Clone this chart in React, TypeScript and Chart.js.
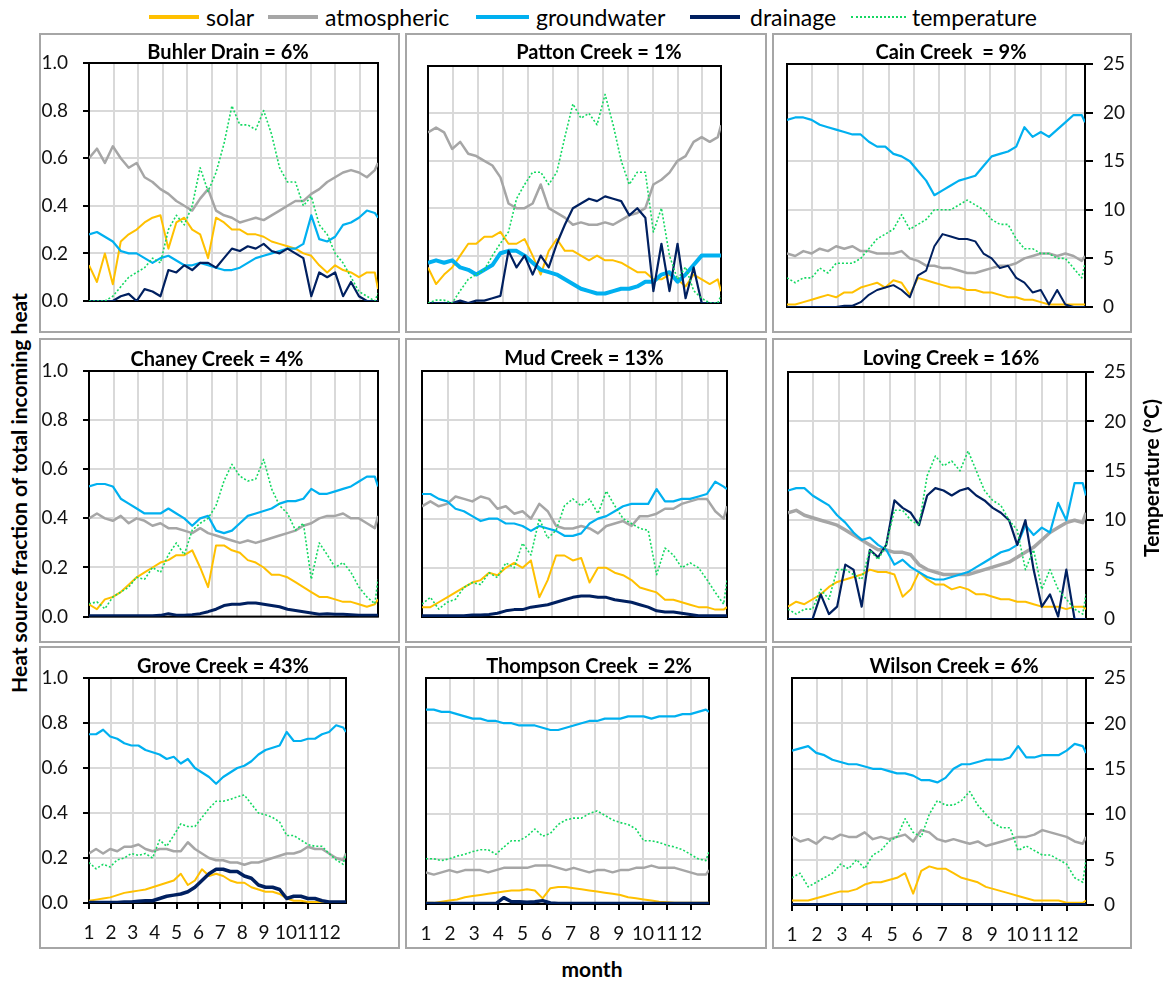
import React, { useEffect, useRef } from 'react';
import { Chart, registerables } from 'chart.js';

Chart.register(...registerables);

const FONT = "Lato, 'Noto Sans', sans-serif";
Chart.defaults.font.family = FONT;
Chart.defaults.color = '#111';

// Day of year for each sample
const DAYS = [1, 11, 21, 31, 41, 51, 61, 71, 81, 91, 101, 111, 121, 131, 141, 151, 161, 171, 181, 191, 201, 211, 221, 231, 241, 251, 261, 271, 281, 291, 301, 311, 321, 331, 341, 351, 361, 365];
const MONTH_TICKS = [1, 32, 63, 94, 125, 156, 187, 218, 249, 280, 311, 342];
const MONTH_LABELS = ['1', '2', '3', '4', '5', '6', '7', '8', '9', '10', '11', '12'];

// ---- Buhler Drain ----
const buhlerSolar = [0.15, 0.08, 0.2, 0.07, 0.25, 0.28, 0.3, 0.33, 0.35, 0.36, 0.22, 0.33, 0.35, 0.3, 0.28, 0.18, 0.35, 0.33, 0.3, 0.3, 0.28, 0.28, 0.27, 0.25, 0.24, 0.23, 0.22, 0.2, 0.19, 0.15, 0.12, 0.15, 0.13, 0.12, 0.1, 0.12, 0.12, 0.05];
const buhlerAtmospheric = [0.6, 0.64, 0.58, 0.65, 0.6, 0.56, 0.58, 0.52, 0.5, 0.47, 0.45, 0.42, 0.4, 0.38, 0.43, 0.47, 0.38, 0.36, 0.35, 0.33, 0.34, 0.35, 0.34, 0.36, 0.38, 0.4, 0.42, 0.42, 0.45, 0.47, 0.5, 0.52, 0.54, 0.55, 0.54, 0.52, 0.55, 0.58];
const buhlerGroundwater = [0.28, 0.29, 0.27, 0.25, 0.21, 0.2, 0.2, 0.18, 0.16, 0.18, 0.19, 0.17, 0.15, 0.15, 0.16, 0.15, 0.14, 0.13, 0.13, 0.14, 0.16, 0.18, 0.19, 0.2, 0.21, 0.22, 0.22, 0.24, 0.36, 0.26, 0.25, 0.27, 0.32, 0.33, 0.35, 0.38, 0.37, 0.35];
const buhlerDrainage = [0, 0, 0, 0, 0.02, 0.03, 0, 0.05, 0.04, 0.02, 0.13, 0.12, 0.15, 0.13, 0.16, 0.16, 0.14, 0.18, 0.22, 0.21, 0.23, 0.22, 0.24, 0.21, 0.2, 0.22, 0.2, 0.18, 0.02, 0.12, 0.1, 0.12, 0.02, 0.08, 0.02, 0, 0, 0];
const buhlerTemperature = [0, 0, 0, 0.5, 1.5, 2.5, 3, 3.5, 4.5, 4, 7.5, 9, 8, 10, 14, 11.5, 13.5, 16.5, 20.5, 18.5, 18.5, 18, 20, 17.5, 14, 12.5, 12.5, 10, 11, 8, 7, 5, 4, 2.5, 1, 0.5, 0, 0.8];

// ---- Patton Creek ----
const pattonSolar = [0.15, 0.08, 0.12, 0.15, 0.2, 0.25, 0.25, 0.28, 0.28, 0.3, 0.25, 0.25, 0.27, 0.2, 0.12, 0.22, 0.27, 0.22, 0.22, 0.2, 0.18, 0.2, 0.18, 0.18, 0.17, 0.15, 0.13, 0.13, 0.1, 0.1, 0.12, 0.1, 0.07, 0.12, 0.1, 0.08, 0.1, 0.05];
const pattonAtmospheric = [0.72, 0.74, 0.72, 0.65, 0.68, 0.63, 0.62, 0.6, 0.58, 0.53, 0.42, 0.4, 0.4, 0.42, 0.5, 0.4, 0.38, 0.36, 0.33, 0.34, 0.33, 0.33, 0.34, 0.33, 0.35, 0.37, 0.38, 0.4, 0.5, 0.52, 0.55, 0.6, 0.62, 0.68, 0.7, 0.68, 0.7, 0.75];
const pattonGroundwater = [0.17, 0.18, 0.17, 0.18, 0.15, 0.14, 0.12, 0.14, 0.16, 0.21, 0.22, 0.22, 0.2, 0.17, 0.14, 0.13, 0.12, 0.1, 0.08, 0.06, 0.05, 0.04, 0.04, 0.05, 0.06, 0.06, 0.07, 0.09, 0.09, 0.12, 0.13, 0.09, 0.12, 0.16, 0.2, 0.2, 0.2, 0.2];
const pattonDrainage = [0, 0, 0, 0, 0.01, 0, 0.01, 0.01, 0.02, 0.03, 0.22, 0.15, 0.2, 0.12, 0.2, 0.15, 0.25, 0.33, 0.4, 0.42, 0.44, 0.43, 0.45, 0.44, 0.43, 0.37, 0.4, 0.36, 0.05, 0.25, 0.05, 0.25, 0.02, 0.15, 0, 0, 0, 0];
const pattonTemperature = [0, 0.3, 0.3, 0, 1.3, 2.5, 3, 3.5, 5, 6.3, 7.5, 11, 12.5, 13.8, 13.8, 12.5, 13.8, 17.5, 21, 19.5, 20, 18.8, 22, 18.8, 15, 12.5, 13.8, 13.8, 7.5, 10, 5, 2.5, 3.8, 1.3, 0.5, 0, 0, 0.8];

// ---- Cain Creek ----
const cainSolar = [0.01, 0.01, 0.02, 0.03, 0.04, 0.05, 0.04, 0.06, 0.06, 0.08, 0.09, 0.1, 0.08, 0.11, 0.1, 0.05, 0.12, 0.11, 0.1, 0.09, 0.08, 0.08, 0.07, 0.07, 0.06, 0.06, 0.05, 0.04, 0.04, 0.03, 0.03, 0.02, 0.01, 0.01, 0.01, 0.01, 0.01, 0.01];
const cainAtmospheric = [0.22, 0.21, 0.23, 0.22, 0.24, 0.23, 0.25, 0.24, 0.25, 0.23, 0.23, 0.22, 0.22, 0.22, 0.23, 0.2, 0.19, 0.17, 0.17, 0.16, 0.16, 0.15, 0.14, 0.14, 0.15, 0.16, 0.17, 0.17, 0.18, 0.2, 0.21, 0.22, 0.22, 0.21, 0.22, 0.21, 0.19, 0.21];
const cainGroundwater = [0.77, 0.78, 0.78, 0.77, 0.75, 0.74, 0.73, 0.72, 0.71, 0.71, 0.68, 0.66, 0.66, 0.63, 0.62, 0.6, 0.56, 0.52, 0.46, 0.48, 0.5, 0.52, 0.53, 0.54, 0.58, 0.62, 0.63, 0.64, 0.66, 0.74, 0.7, 0.72, 0.7, 0.73, 0.76, 0.79, 0.79, 0.76];
const cainDrainage = [0, 0, 0, 0, 0, 0, 0, 0.005, 0.005, 0.02, 0.05, 0.07, 0.08, 0.09, 0.07, 0.04, 0.13, 0.15, 0.25, 0.3, 0.29, 0.28, 0.28, 0.27, 0.22, 0.2, 0.16, 0.17, 0.12, 0.1, 0.06, 0.07, 0.01, 0.07, 0.01, 0, 0, 0];
const cainTemperature = [3, 2.5, 3, 3, 4, 3.5, 4.5, 4.5, 4.5, 5, 6, 7, 7.5, 8, 9.5, 8, 8.5, 9, 10, 10, 10, 10.5, 11, 10.5, 10, 9, 8.5, 8.5, 7, 6, 6, 5.5, 5.5, 5, 5, 4, 3, 4.5];

// ---- Chaney Creek ----
const chaneySolar = [0.05, 0.03, 0.07, 0.08, 0.1, 0.13, 0.16, 0.18, 0.2, 0.22, 0.23, 0.25, 0.25, 0.27, 0.2, 0.12, 0.29, 0.29, 0.27, 0.26, 0.23, 0.22, 0.2, 0.17, 0.17, 0.16, 0.14, 0.12, 0.1, 0.08, 0.08, 0.07, 0.06, 0.06, 0.05, 0.04, 0.05, 0.07];
const chaneyAtmospheric = [0.4, 0.42, 0.4, 0.39, 0.41, 0.38, 0.4, 0.39, 0.37, 0.38, 0.36, 0.36, 0.35, 0.34, 0.36, 0.34, 0.33, 0.32, 0.31, 0.3, 0.31, 0.3, 0.31, 0.32, 0.33, 0.34, 0.35, 0.37, 0.38, 0.4, 0.41, 0.41, 0.42, 0.4, 0.4, 0.38, 0.36, 0.41];
const chaneyGroundwater = [0.53, 0.54, 0.54, 0.53, 0.48, 0.46, 0.44, 0.42, 0.42, 0.42, 0.44, 0.42, 0.4, 0.37, 0.4, 0.41, 0.35, 0.34, 0.35, 0.38, 0.41, 0.42, 0.43, 0.44, 0.46, 0.47, 0.47, 0.48, 0.52, 0.5, 0.5, 0.51, 0.52, 0.53, 0.55, 0.57, 0.57, 0.53];
const chaneyDrainage = [0.003, 0.003, 0.003, 0.003, 0.003, 0.003, 0.003, 0.003, 0.003, 0.005, 0.012, 0.006, 0.006, 0.008, 0.012, 0.02, 0.03, 0.045, 0.05, 0.05, 0.055, 0.055, 0.05, 0.045, 0.04, 0.03, 0.025, 0.02, 0.015, 0.01, 0.012, 0.01, 0.01, 0.008, 0.006, 0.005, 0.005, 0.005];
const chaneyTemperature = [1.3, 1.5, 0.8, 2, 2.5, 3, 4, 3.8, 5, 4.5, 6.3, 7.5, 6.3, 8.8, 9.5, 10, 11.3, 13.8, 15.5, 14.3, 13.8, 14, 16, 13, 11.3, 10.5, 8.8, 9.5, 3.8, 7.5, 6.3, 5, 5.5, 4.5, 3, 2, 1.3, 3.8];

// ---- Mud Creek ----
const mudSolar = [0.04, 0.04, 0.06, 0.08, 0.1, 0.12, 0.14, 0.15, 0.18, 0.17, 0.2, 0.22, 0.2, 0.23, 0.08, 0.15, 0.25, 0.25, 0.23, 0.24, 0.14, 0.2, 0.2, 0.18, 0.17, 0.15, 0.12, 0.11, 0.1, 0.07, 0.07, 0.06, 0.05, 0.04, 0.04, 0.03, 0.03, 0.04];
const mudAtmospheric = [0.45, 0.47, 0.45, 0.46, 0.49, 0.48, 0.47, 0.49, 0.48, 0.44, 0.45, 0.42, 0.43, 0.4, 0.46, 0.43, 0.37, 0.36, 0.36, 0.37, 0.36, 0.34, 0.37, 0.38, 0.39, 0.37, 0.41, 0.41, 0.42, 0.44, 0.44, 0.46, 0.47, 0.48, 0.48, 0.43, 0.4, 0.45];
const mudGroundwater = [0.5, 0.5, 0.48, 0.47, 0.44, 0.43, 0.41, 0.39, 0.4, 0.4, 0.38, 0.38, 0.37, 0.35, 0.37, 0.36, 0.35, 0.33, 0.33, 0.34, 0.38, 0.4, 0.41, 0.43, 0.45, 0.46, 0.46, 0.46, 0.52, 0.47, 0.47, 0.48, 0.48, 0.49, 0.5, 0.55, 0.53, 0.52];
const mudDrainage = [0.005, 0.005, 0.005, 0.005, 0.005, 0.005, 0.008, 0.008, 0.01, 0.015, 0.025, 0.03, 0.03, 0.04, 0.045, 0.05, 0.06, 0.07, 0.08, 0.085, 0.085, 0.08, 0.08, 0.07, 0.065, 0.06, 0.05, 0.04, 0.025, 0.02, 0.02, 0.015, 0.01, 0.005, 0.005, 0.005, 0.005, 0.005];
const mudTemperature = [1.3, 2, 0.8, 1.5, 1.8, 3, 3.5, 3.3, 4.5, 4, 5.5, 5, 7.5, 6.3, 10, 8, 8.8, 11.3, 12, 11.3, 12, 10.5, 12.8, 11.3, 10, 9.5, 9, 8.8, 4.3, 7, 6.3, 5, 5.5, 5, 3.8, 2.5, 1.3, 3.8];

// ---- Loving Creek ----
const lovingSolar = [0.05, 0.07, 0.06, 0.08, 0.1, 0.13, 0.15, 0.16, 0.17, 0.18, 0.2, 0.19, 0.19, 0.18, 0.09, 0.12, 0.19, 0.16, 0.14, 0.14, 0.12, 0.13, 0.12, 0.1, 0.1, 0.09, 0.08, 0.08, 0.07, 0.07, 0.06, 0.05, 0.05, 0.05, 0.04, 0.05, 0.05, 0.04];
const lovingAtmospheric = [0.43, 0.44, 0.42, 0.41, 0.4, 0.39, 0.38, 0.36, 0.34, 0.32, 0.3, 0.28, 0.28, 0.27, 0.27, 0.26, 0.22, 0.2, 0.19, 0.18, 0.18, 0.18, 0.18, 0.19, 0.2, 0.21, 0.22, 0.23, 0.25, 0.27, 0.29, 0.32, 0.35, 0.37, 0.39, 0.4, 0.39, 0.43];
const lovingGroundwater = [0.52, 0.53, 0.53, 0.5, 0.48, 0.46, 0.42, 0.39, 0.35, 0.32, 0.33, 0.3, 0.28, 0.22, 0.24, 0.21, 0.19, 0.17, 0.16, 0.16, 0.17, 0.18, 0.19, 0.21, 0.23, 0.25, 0.27, 0.28, 0.3, 0.38, 0.34, 0.37, 0.35, 0.47, 0.4, 0.55, 0.55, 0.5];
const lovingDrainage = [0, 0, 0, 0, 0.1, 0.02, 0.05, 0.22, 0.2, 0.05, 0.28, 0.25, 0.3, 0.48, 0.45, 0.43, 0.38, 0.5, 0.53, 0.52, 0.5, 0.52, 0.53, 0.5, 0.48, 0.45, 0.43, 0.4, 0.3, 0.4, 0.2, 0.05, 0.1, 0.01, 0.2, 0, 0, 0];
const lovingTemperature = [1, 0.5, 1, 1, 3, 2, 5, 5, 4.5, 4, 7, 6, 7.5, 11, 11, 10, 9.5, 14.5, 16.5, 15.5, 16, 15, 17, 15, 13, 12, 11.5, 10, 9, 5, 7, 3, 5, 3, 2, 1, 0.5, 2.5];

// ---- Grove Creek ----
const groveSolar = [0.01, 0.015, 0.02, 0.025, 0.035, 0.045, 0.05, 0.055, 0.06, 0.07, 0.08, 0.09, 0.1, 0.13, 0.08, 0.1, 0.15, 0.12, 0.13, 0.12, 0.1, 0.09, 0.09, 0.07, 0.06, 0.05, 0.05, 0.04, 0.02, 0.01, 0.01, 0.005, 0.005, 0.005, 0.005, 0.005, 0.005, 0.005];
const groveAtmospheric = [0.22, 0.24, 0.22, 0.24, 0.23, 0.25, 0.25, 0.26, 0.24, 0.23, 0.24, 0.24, 0.23, 0.23, 0.27, 0.24, 0.22, 0.2, 0.19, 0.19, 0.18, 0.18, 0.17, 0.18, 0.18, 0.19, 0.2, 0.21, 0.22, 0.22, 0.23, 0.25, 0.24, 0.24, 0.22, 0.2, 0.19, 0.22];
const groveGroundwater = [0.75, 0.75, 0.77, 0.74, 0.73, 0.71, 0.7, 0.7, 0.68, 0.67, 0.66, 0.64, 0.65, 0.62, 0.64, 0.6, 0.58, 0.56, 0.53, 0.56, 0.58, 0.6, 0.61, 0.63, 0.66, 0.68, 0.69, 0.7, 0.76, 0.72, 0.72, 0.73, 0.73, 0.75, 0.76, 0.79, 0.78, 0.76];
const groveDrainage = [0.002, 0.002, 0.002, 0.002, 0.002, 0.005, 0.005, 0.008, 0.01, 0.01, 0.02, 0.03, 0.035, 0.04, 0.05, 0.07, 0.1, 0.13, 0.15, 0.15, 0.14, 0.14, 0.12, 0.11, 0.08, 0.07, 0.07, 0.06, 0.02, 0.03, 0.03, 0.02, 0.02, 0.01, 0.005, 0.005, 0.005, 0.005];
const groveTemperature = [4.5, 3.8, 4.3, 4, 4.8, 5, 5.5, 5.3, 5.5, 5, 7, 6.3, 7.5, 8.8, 8.5, 8.5, 9.5, 10.5, 11.3, 11.3, 11.5, 11.8, 12, 11, 10, 9.8, 9.5, 9, 7.5, 7.5, 7, 6.5, 6.3, 6.3, 5.5, 4.8, 4.3, 5.5];

// ---- Thompson Creek ----
const thompsonSolar = [0.005, 0.005, 0.01, 0.015, 0.02, 0.03, 0.035, 0.04, 0.045, 0.05, 0.055, 0.06, 0.06, 0.065, 0.06, 0.025, 0.07, 0.075, 0.075, 0.07, 0.065, 0.06, 0.055, 0.05, 0.045, 0.04, 0.03, 0.025, 0.02, 0.015, 0.01, 0.008, 0.005, 0.005, 0.005, 0.005, 0.005, 0.005];
const thompsonAtmospheric = [0.14, 0.13, 0.14, 0.15, 0.14, 0.15, 0.15, 0.15, 0.14, 0.15, 0.16, 0.16, 0.16, 0.16, 0.17, 0.17, 0.17, 0.16, 0.15, 0.16, 0.15, 0.14, 0.15, 0.15, 0.14, 0.15, 0.15, 0.16, 0.16, 0.17, 0.16, 0.16, 0.16, 0.15, 0.14, 0.13, 0.13, 0.15];
const thompsonGroundwater = [0.86, 0.86, 0.85, 0.85, 0.84, 0.83, 0.82, 0.82, 0.81, 0.81, 0.8, 0.8, 0.79, 0.79, 0.79, 0.78, 0.77, 0.77, 0.78, 0.79, 0.8, 0.81, 0.81, 0.82, 0.82, 0.82, 0.83, 0.83, 0.83, 0.82, 0.83, 0.83, 0.83, 0.84, 0.84, 0.85, 0.86, 0.85];
const thompsonDrainage = [0.002, 0.002, 0.002, 0.002, 0.002, 0.002, 0.002, 0.002, 0.002, 0.002, 0.028, 0.01, 0.01, 0.008, 0.01, 0.015, 0.005, 0.002, 0.002, 0.002, 0.002, 0.002, 0.002, 0.002, 0.002, 0.002, 0.002, 0.002, 0.002, 0.002, 0.002, 0.002, 0.002, 0.002, 0.002, 0.002, 0.002, 0.002];
const thompsonTemperature = [5, 5, 4.8, 5, 5.3, 5.5, 5.8, 6, 6, 5.5, 6.3, 7, 7, 7.5, 8.3, 7.5, 7.8, 8.8, 9.3, 9.5, 9.5, 10, 10.3, 9.8, 9.3, 9, 8.8, 8.3, 7, 7, 6.8, 6.5, 6.3, 6, 5.5, 5, 4.8, 5.8];

// ---- Wilson Creek ----
const wilsonSolar = [0.02, 0.02, 0.02, 0.03, 0.04, 0.05, 0.06, 0.06, 0.07, 0.09, 0.1, 0.1, 0.11, 0.12, 0.14, 0.05, 0.15, 0.17, 0.16, 0.16, 0.14, 0.12, 0.11, 0.1, 0.08, 0.07, 0.06, 0.05, 0.04, 0.03, 0.02, 0.02, 0.02, 0.02, 0.01, 0.01, 0.01, 0.02];
const wilsonAtmospheric = [0.3, 0.28, 0.29, 0.27, 0.3, 0.29, 0.31, 0.3, 0.3, 0.32, 0.29, 0.3, 0.29, 0.3, 0.31, 0.28, 0.33, 0.32, 0.29, 0.28, 0.29, 0.28, 0.27, 0.28, 0.26, 0.27, 0.28, 0.29, 0.3, 0.3, 0.31, 0.33, 0.32, 0.31, 0.3, 0.28, 0.27, 0.3];
const wilsonGroundwater = [0.68, 0.69, 0.7, 0.67, 0.66, 0.64, 0.63, 0.62, 0.62, 0.61, 0.6, 0.6, 0.59, 0.58, 0.58, 0.57, 0.55, 0.55, 0.54, 0.56, 0.6, 0.62, 0.62, 0.63, 0.64, 0.64, 0.64, 0.65, 0.7, 0.65, 0.65, 0.66, 0.66, 0.66, 0.68, 0.71, 0.7, 0.67];
const wilsonDrainage = [0, 0, 0, 0, 0, 0, 0, 0, 0, 0, 0, 0, 0, 0, 0, 0, 0, 0, 0, 0, 0, 0, 0, 0, 0, 0, 0, 0, 0, 0, 0, 0, 0, 0, 0, 0, 0, 0];
const wilsonTemperature = [3, 3.5, 2, 2.5, 3, 3.5, 4.5, 4, 5, 4, 5.5, 6, 7, 7.5, 9.5, 8, 7.5, 10, 11.5, 11, 11, 11.5, 12.5, 11, 10, 9, 8.5, 8.5, 6, 6.5, 6, 5.5, 5.5, 5, 4.5, 3, 2.5, 5];

const C_SOLAR = '#FFC000';
const C_ATM = '#A6A6A6';
const C_GW = '#00B0F0';
const C_DRAIN = '#002060';
const C_TEMP = '#14D862';
const C_GRID = '#D9D9D9';

type PanelDef = {
  title: string;
  solar: number[]; atmospheric: number[]; groundwater: number[]; drainage: number[]; temperature: number[];
  box: number[]; plot: number[]; titleAt: number[]; col: number; row: number;
  gwWidth: number; drWidth: number; atmWidth: number;
};

const PANELS: PanelDef[] = [
  { title: 'Buhler Drain = 6%', solar: buhlerSolar, atmospheric: buhlerAtmospheric, groundwater: buhlerGroundwater, drainage: buhlerDrainage, temperature: buhlerTemperature,
    box: [39, 33, 400, 333], plot: [89, 63, 389, 301], titleAt: [228, 51], col: 0, row: 0, gwWidth: 2.2, drWidth: 2.2, atmWidth: 2.5 },
  { title: 'Patton Creek = 1%', solar: pattonSolar, atmospheric: pattonAtmospheric, groundwater: pattonGroundwater, drainage: pattonDrainage, temperature: pattonTemperature,
    box: [405, 33, 767, 333], plot: [428, 66, 744, 303], titleAt: [599, 51], col: 1, row: 0, gwWidth: 4, drWidth: 2.2, atmWidth: 2.5 },
  { title: 'Cain Creek  = 9%', solar: cainSolar, atmospheric: cainAtmospheric, groundwater: cainGroundwater, drainage: cainDrainage, temperature: cainTemperature,
    box: [772, 33, 1132, 333], plot: [787, 64, 1085, 307], titleAt: [951, 51], col: 2, row: 0, gwWidth: 2.2, drWidth: 2, atmWidth: 2.5 },
  { title: 'Chaney Creek = 4%', solar: chaneySolar, atmospheric: chaneyAtmospheric, groundwater: chaneyGroundwater, drainage: chaneyDrainage, temperature: chaneyTemperature,
    box: [39, 338, 400, 643], plot: [89, 371, 389, 618], titleAt: [217, 358], col: 0, row: 1, gwWidth: 2.2, drWidth: 3, atmWidth: 2.5 },
  { title: 'Mud Creek = 13%', solar: mudSolar, atmospheric: mudAtmospheric, groundwater: mudGroundwater, drainage: mudDrainage, temperature: mudTemperature,
    box: [405, 338, 767, 643], plot: [422, 371, 747, 617], titleAt: [584, 357], col: 1, row: 1, gwWidth: 2.2, drWidth: 3, atmWidth: 2.5 },
  { title: 'Loving Creek = 16%', solar: lovingSolar, atmospheric: lovingAtmospheric, groundwater: lovingGroundwater, drainage: lovingDrainage, temperature: lovingTemperature,
    box: [772, 338, 1132, 643], plot: [788, 372, 1086, 619], titleAt: [951, 357], col: 2, row: 1, gwWidth: 2.2, drWidth: 2.2, atmWidth: 3.5 },
  { title: 'Grove Creek = 43%', solar: groveSolar, atmospheric: groveAtmospheric, groundwater: groveGroundwater, drainage: groveDrainage, temperature: groveTemperature,
    box: [39, 646, 400, 949], plot: [89, 678, 373, 903], titleAt: [223, 665], col: 0, row: 2, gwWidth: 2.2, drWidth: 3.5, atmWidth: 2.5 },
  { title: 'Thompson Creek  = 2%', solar: thompsonSolar, atmospheric: thompsonAtmospheric, groundwater: thompsonGroundwater, drainage: thompsonDrainage, temperature: thompsonTemperature,
    box: [405, 646, 767, 949], plot: [426, 678, 738, 904], titleAt: [589, 665], col: 1, row: 2, gwWidth: 2.2, drWidth: 3.5, atmWidth: 2.5 },
  { title: 'Wilson Creek = 6%', solar: wilsonSolar, atmospheric: wilsonAtmospheric, groundwater: wilsonGroundwater, drainage: wilsonDrainage, temperature: wilsonTemperature,
    box: [772, 646, 1132, 949], plot: [792, 678, 1086, 905], titleAt: [954, 665], col: 2, row: 2, gwWidth: 2.2, drWidth: 4, atmWidth: 2.5 },
];

const LEGEND = [
  { label: 'solar', color: C_SOLAR, dotted: false, x0: 149, x1: 199, tx: 206 },
  { label: 'atmospheric', color: C_ATM, dotted: false, x0: 268, x1: 318, tx: 325 },
  { label: 'groundwater', color: C_GW, dotted: false, x0: 476, x1: 529, tx: 536 },
  { label: 'drainage', color: C_DRAIN, dotted: false, x0: 690, x1: 740, tx: 750 },
  { label: 'temperature', color: C_TEMP, dotted: true, x0: 851, x1: 906, tx: 912 },
];

const framePlugin = {
  id: 'frame',
  beforeDatasetsDraw(chart: any) {
    const { ctx, chartArea: a } = chart;
    ctx.save();
    ctx.strokeStyle = '#000';
    ctx.lineWidth = 2;
    ctx.strokeRect(a.left, a.top, a.right - a.left, a.bottom - a.top);
    ctx.restore();
  },
};

function Panel({ p }: { p: PanelDef }) {
  const ref = useRef<HTMLCanvasElement>(null);
  const [bx0, by0, bx1, by1] = p.box;
  const [px0, py0, px1, py1] = p.plot;
  const w = bx1 - bx0;
  const h = by1 - by0;

  useEffect(() => {
    const isLeft = p.col === 0;
    const isRight = p.col === 2;
    const isBottom = p.row === 2;
    const mk = (arr: number[]) => DAYS.map((d, i) => ({ x: d, y: arr[i] }));
    const chart = new Chart(ref.current as HTMLCanvasElement, {
      type: 'line',
      data: {
        datasets: [
          { label: 'temperature', data: mk(p.temperature), yAxisID: 'y2', borderColor: C_TEMP, borderWidth: 1.6, borderDash: [2, 2], order: 1 },
          { label: 'drainage', data: mk(p.drainage), yAxisID: 'y', borderColor: C_DRAIN, borderWidth: p.drWidth, order: 2 },
          { label: 'groundwater', data: mk(p.groundwater), yAxisID: 'y', borderColor: C_GW, borderWidth: p.gwWidth, order: 3 },
          { label: 'atmospheric', data: mk(p.atmospheric), yAxisID: 'y', borderColor: C_ATM, borderWidth: p.atmWidth, order: 4 },
          { label: 'solar', data: mk(p.solar), yAxisID: 'y', borderColor: C_SOLAR, borderWidth: 2, order: 5 },
        ] as any,
      },
      options: {
        responsive: false,
        animation: false,
        events: [],
        elements: { point: { radius: 0 }, line: { tension: 0, borderJoinStyle: 'round' } },
        layout: { padding: { top: py0 - by0, left: 0, bottom: 0, right: isRight ? 0 : bx1 - px1 } },
        plugins: { legend: { display: false }, tooltip: { enabled: false }, title: { display: false } },
        scales: {
          x: {
            type: 'linear', min: 1, max: 365,
            afterBuildTicks: (s: any) => { s.ticks = MONTH_TICKS.map((v) => ({ value: v })); },
            afterFit: (s: any) => { s.height = by1 - py1; },
            ticks: {
              display: isBottom, autoSkip: false, maxRotation: 0, padding: 12,
              font: { size: 19, family: FONT }, color: '#111',
              callback: (_v: any, i: number) => MONTH_LABELS[i],
            },
            grid: { color: C_GRID, lineWidth: 2, drawTicks: isBottom, tickLength: 6, tickColor: '#000' },
            border: { display: false },
          },
          y: {
            min: 0, max: 1,
            afterFit: (s: any) => { s.width = px0 - bx0; },
            ticks: {
              display: isLeft, stepSize: 0.2, padding: 15,
              font: { size: 19, family: FONT }, color: '#111',
              callback: (v: any) => Number(v).toFixed(1),
            },
            grid: { color: C_GRID, lineWidth: 2, drawTicks: isLeft, tickLength: 6, tickColor: '#000' },
            border: { display: false },
          },
          y2: {
            position: 'right', display: isRight, min: 0, max: 25,
            afterFit: (s: any) => { s.width = bx1 - px1; },
            ticks: { stepSize: 5, padding: 10, font: { size: 19, family: FONT }, color: '#111' },
            grid: { drawOnChartArea: false, drawTicks: true, tickLength: 8, tickColor: '#000', lineWidth: 2 },
            border: { display: false },
          },
        },
      } as any,
      plugins: [framePlugin],
    });
    return () => chart.destroy();
  }, []);

  return (
    <>
      <canvas ref={ref} width={w} height={h} style={{ position: 'absolute', left: bx0, top: by0, width: w, height: h }} />
      <div style={{ position: 'absolute', left: bx0, top: by0, width: w, height: h, boxSizing: 'border-box', border: '2px solid #A6A6A6', pointerEvents: 'none' }} />
      <div style={{ position: 'absolute', left: p.titleAt[0], top: p.titleAt[1], transform: 'translate(-50%, -50%)', whiteSpace: 'pre', fontFamily: FONT, fontWeight: 700, fontSize: 20, color: '#000' }}>
        {p.title}
      </div>
    </>
  );
}

export default function App() {
  return (
    <div style={{ position: 'absolute', left: 0, top: 0, width: 1166, height: 981, background: '#fff', fontFamily: FONT }}>
      {LEGEND.map((l) => (
        <React.Fragment key={l.label}>
          <div style={{ position: 'absolute', left: l.x0, top: l.dotted ? 16 : 15, width: l.x1 - l.x0, height: 0, borderTop: l.dotted ? `2px dotted ${l.color}` : `4px solid ${l.color}` }} />
          <div style={{ position: 'absolute', left: l.tx, top: 17, transform: 'translateY(-50%)', fontSize: 23, color: '#000', whiteSpace: 'nowrap', fontFamily: FONT }}>{l.label}</div>
        </React.Fragment>
      ))}
      {PANELS.map((p) => <Panel key={p.title} p={p} />)}
      <div style={{ position: 'absolute', left: 18, top: 493, transform: 'translate(-50%, -50%) rotate(-90deg)', whiteSpace: 'nowrap', fontWeight: 700, fontSize: 21, color: '#000' }}>
        Heat source fraction of total incoming heat
      </div>
      <div style={{ position: 'absolute', left: 1150, top: 478, transform: 'translate(-50%, -50%) rotate(-90deg)', whiteSpace: 'nowrap', fontWeight: 700, fontSize: 21, color: '#000' }}>
        Temperature (°C)
      </div>
      <div style={{ position: 'absolute', left: 592, top: 968, transform: 'translate(-50%, -50%)', whiteSpace: 'nowrap', fontWeight: 700, fontSize: 21, color: '#000' }}>
        month
      </div>
    </div>
  );
}
